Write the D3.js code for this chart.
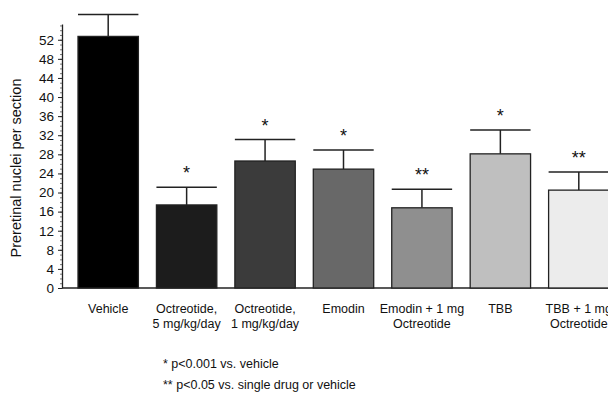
<!DOCTYPE html>
<html>
<head>
<meta charset="utf-8">
<script src="https://cdn.jsdelivr.net/npm/d3@7"></script>
<style>
  body { margin: 0; background: #fff; }
  text { font-family: "Liberation Sans", Arial, sans-serif; fill: #111; }
</style>
</head>
<body>
<div id="chart"></div>
<script>
// data
var groups = ["Vehicle", "Octreotide, 5 mg/kg/day", "Octreotide, 1 mg/kg/day", "Emodin",
              "Emodin + 1 mg Octreotide", "TBB", "TBB + 1 mg Octreotide"];
var labelLines = [["Vehicle"], ["Octreotide,", "5 mg/kg/day"], ["Octreotide,", "1 mg/kg/day"], ["Emodin"],
                  ["Emodin + 1 mg", "Octreotide"], ["TBB"], ["TBB + 1 mg", "Octreotide"]];
var means = [52.7, 17.4, 26.6, 24.9, 16.8, 28.1, 20.5];
var errors = [4.6, 3.7, 4.5, 4.0, 3.9, 5.0, 3.8];
var signif = ["", "*", "*", "*", "**", "*", "**"];
var fills = ["#000000", "#1c1c1c", "#3b3b3b", "#686868", "#8f8f8f", "#bfbfbf", "#ececec"];
var yTicks = [0, 4, 8, 12, 16, 20, 24, 28, 32, 36, 40, 44, 48, 52];
var notes = ["* p<0.001 vs. vehicle", "** p<0.05 vs. single drug or vehicle"];

var width = 608, height = 396;
var svg = d3.select("#chart").append("svg")
    .attr("width", width)
    .attr("height", height);

var x0 = 62, yBase = 288;

var x = d3.scaleBand()
    .domain(groups)
    .range([x0, 625])
    .paddingInner(0.23)
    .paddingOuter(0.204);

var y = d3.scaleLinear().domain([0, 55.3]).range([yBase, 24]);

// minor ticks every unit
svg.append("g")
    .attr("transform", "translate(" + x0 + ",0)")
    .call(d3.axisLeft(y).tickValues(d3.range(0, 56, 1)).tickSize(2).tickFormat(""))
    .call(function (g) { g.select(".domain").remove(); })
    .selectAll("line").attr("stroke", "#777");

// y axis
var yAxis = svg.append("g")
    .attr("transform", "translate(" + x0 + ",0)")
    .call(d3.axisLeft(y).tickValues(yTicks).tickSize(4).tickSizeOuter(0).tickPadding(4));
yAxis.select(".domain").attr("stroke", "#222").attr("stroke-width", 1.3);
yAxis.selectAll(".tick line").attr("stroke", "#222");
yAxis.selectAll("text").style("font-size", "13.5px").style("font-family", "Liberation Sans, Arial, sans-serif").attr("fill", "#111");

// x baseline
svg.append("line")
    .attr("x1", x0).attr("x2", width)
    .attr("y1", y(0)).attr("y2", y(0))
    .attr("stroke", "#222").attr("stroke-width", 1.3);

// error bars
var err = svg.append("g").selectAll("g").data(groups).enter().append("g");
err.append("line")
    .attr("x1", function (d) { return x(d) + x.bandwidth() / 2; })
    .attr("x2", function (d) { return x(d) + x.bandwidth() / 2; })
    .attr("y1", function (d, i) { return y(means[i]); })
    .attr("y2", function (d, i) { return y(means[i] + errors[i]); })
    .attr("stroke", "#222").attr("stroke-width", 1.5);
err.append("line")
    .attr("x1", function (d) { return x(d); })
    .attr("x2", function (d) { return x(d) + x.bandwidth(); })
    .attr("y1", function (d, i) { return y(means[i] + errors[i]); })
    .attr("y2", function (d, i) { return y(means[i] + errors[i]); })
    .attr("stroke", "#222").attr("stroke-width", 1.5);

// bars
svg.append("g").selectAll("rect").data(groups).enter().append("rect")
    .attr("x", function (d) { return x(d); })
    .attr("width", x.bandwidth())
    .attr("y", function (d, i) { return y(means[i]); })
    .attr("height", function (d, i) { return y(0) - y(means[i]); })
    .attr("fill", function (d, i) { return fills[i]; })
    .attr("stroke", "#222")
    .attr("stroke-width", 1.3);

// significance stars
svg.append("g").selectAll("text").data(groups).enter().append("text")
    .attr("x", function (d) { return x(d) + x.bandwidth() / 2; })
    .attr("y", function (d, i) { return y(means[i] + errors[i]) - 8; })
    .attr("text-anchor", "middle")
    .style("font-size", "18px")
    .text(function (d, i) { return signif[i]; });

// category labels
var lbl = svg.append("g").selectAll("text").data(groups).enter().append("text")
    .attr("x", function (d) { return x(d) + x.bandwidth() / 2; })
    .attr("y", 313)
    .attr("text-anchor", "middle")
    .style("font-size", "12.5px");
lbl.selectAll("tspan").data(function (d, i) { return labelLines[i]; }).enter().append("tspan")
    .attr("x", function () { return d3.select(this.parentNode).attr("x"); })
    .attr("dy", function (d, i) { return i === 0 ? 0 : 14.5; })
    .text(function (d) { return d; });

// y title
svg.append("text")
    .attr("transform", "translate(21," + 168 + ") rotate(-90)")
    .attr("text-anchor", "middle")
    .style("font-size", "14.5px")
    .text("Preretinal nuclei per section");

// footnotes
svg.append("g").selectAll("text").data(notes).enter().append("text")
    .attr("x", 163)
    .attr("y", function (d, i) { return 368 + i * 21; })
    .style("font-size", "12.5px")
    .text(function (d) { return d; });
</script>
</body>
</html>
